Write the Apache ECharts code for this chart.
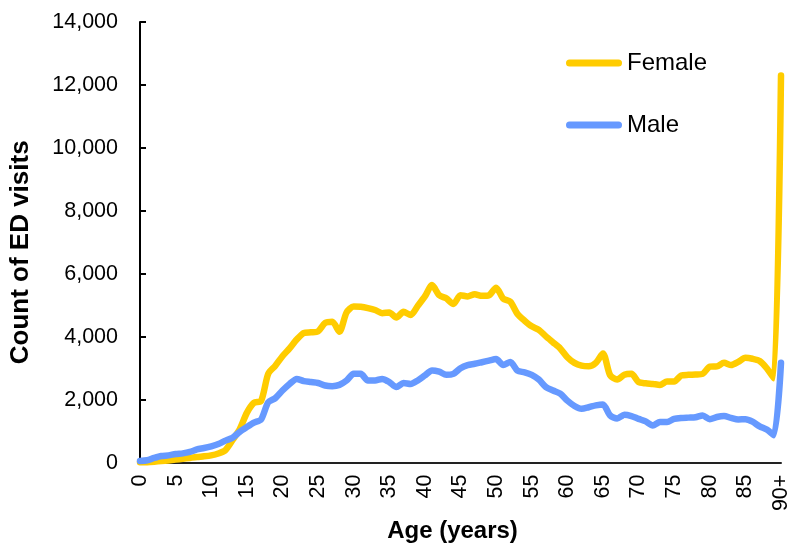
<!DOCTYPE html>
<html>
<head>
<meta charset="utf-8">
<script src="https://cdn.jsdelivr.net/npm/echarts@6/dist/echarts.min.js"></script>
<style>
html,body{margin:0;padding:0;background:#fff;}
#chart{width:792px;height:548px;}
</style>
</head>
<body>
<div id="chart"></div>
<script>
// Categories: ages 0..89 and "90+"
const ages = [];
for (let a = 0; a < 90; a++) ages.push(String(a));
ages.push('90+');

const female = [10, 15, 30, 50, 70, 95, 120, 150, 180, 200,
  230, 290, 400, 720, 1060, 1580, 1900, 1960, 2820, 3080,
  3380, 3630, 3910, 4120, 4140, 4170, 4440, 4480, 4160, 4770,
  4960, 4950, 4910, 4850, 4750, 4770, 4610, 4790, 4690, 4980,
  5280, 5640, 5320, 5220, 5040, 5320, 5280, 5350, 5300, 5320,
  5560, 5210, 5110, 4720, 4510, 4330, 4220, 4010, 3820, 3630,
  3350, 3170, 3080, 3060, 3170, 3470, 2780, 2640, 2790, 2820,
  2560, 2520, 2500, 2470, 2580, 2580, 2770, 2790, 2800, 2820,
  3050, 3060, 3170, 3100, 3200, 3330, 3300, 3230, 3000, 2680,
  12300];

const male = [50, 75, 150, 210, 230, 275, 295, 340, 420, 465,
  520, 590, 700, 790, 980, 1130, 1270, 1370, 1920, 2050,
  2290, 2500, 2660, 2590, 2560, 2530, 2450, 2430, 2470, 2610,
  2820, 2820, 2610, 2610, 2660, 2560, 2400, 2530, 2500, 2610,
  2770, 2930, 2890, 2790, 2820, 3000, 3100, 3140, 3190, 3240,
  3290, 3100, 3200, 2920, 2870, 2790, 2640, 2400, 2290, 2190,
  1970, 1800, 1710, 1760, 1820, 1850, 1500, 1400, 1520, 1480,
  1390, 1310, 1180, 1290, 1290, 1390, 1420, 1430, 1440, 1500,
  1380, 1450, 1480, 1420, 1370, 1380, 1300, 1150, 1050, 870,
  3170];

const yMin = 0, yMax = 14000, yStep = 2000;

const FONT = '"Liberation Sans", Arial, sans-serif';
const CAPSULE = 'path://M3.5,0 L52.5,0 A3.5,3.5 0 0 1 52.5,7 L3.5,7 A3.5,3.5 0 0 1 3.5,0 Z';
const chart = echarts.init(document.getElementById('chart'), null, {renderer: 'canvas'});
chart.setOption({
  animation: false,
  backgroundColor: '#ffffff',
  textStyle: {fontFamily: FONT, color: '#000'},
  grid: {left: 140, right: 8, top: 22, bottom: 84, containLabel: false},
  legend: {
    orient: 'vertical',
    left: 566,
    top: 51,
    padding: 0,
    itemWidth: 56,
    itemHeight: 7,
    itemGap: 38,
    textStyle: {fontFamily: FONT, fontSize: 24, color: '#000'},
    data: [
      {name: 'Female', icon: CAPSULE},
      {name: 'Male', icon: CAPSULE}
    ]
  },
  xAxis: {
    type: 'category',
    data: ages,
    boundaryGap: false,
    name: 'Age (years)',
    nameLocation: 'middle',
    nameGap: 54,
    nameTextStyle: {fontFamily: FONT, fontSize: 24, fontWeight: 'bold', color: '#000', padding: [0, 16, 0, 0]},
    axisLine: {lineStyle: {color: '#222', width: 2}},
    axisTick: {show: false},
    axisLabel: {
      interval: function (idx) { return idx % 5 === 0; },
      rotate: 90,
      margin: 12,
      fontFamily: FONT,
      fontSize: 21.5,
      color: '#000'
    },
    splitLine: {show: false}
  },
  yAxis: {
    type: 'value',
    min: yMin,
    max: yMax,
    interval: yStep,
    name: 'Count of ED visits',
    nameLocation: 'middle',
    nameRotate: 90,
    nameGap: 106,
    nameTextStyle: {fontFamily: FONT, fontSize: 26, fontWeight: 'bold', color: '#000', padding: [0, 20, 0, 0]},
    axisLine: {show: true, lineStyle: {color: '#000', width: 2}},
    axisTick: {show: true, inside: true, length: 6, lineStyle: {color: '#000', width: 2}},
    axisLabel: {
      margin: 22,
      fontFamily: FONT,
      fontSize: 21.5,
      color: '#000',
      formatter: function (v) { return v.toLocaleString('en-US'); }
    },
    splitLine: {show: false}
  },
  series: [
    {
      name: 'Female',
      type: 'line',
      data: female,
      symbol: 'none',
      smooth: 0.25,
      color: '#FFCC00',
      lineStyle: {color: '#FFCC00', width: 6.5, cap: 'round', join: 'round'},
      z: 2
    },
    {
      name: 'Male',
      type: 'line',
      data: male,
      symbol: 'none',
      smooth: 0.25,
      color: '#6699FF',
      lineStyle: {color: '#6699FF', width: 6.5, cap: 'round', join: 'round'},
      z: 3
    }
  ]
});
</script>
</body>
</html>
